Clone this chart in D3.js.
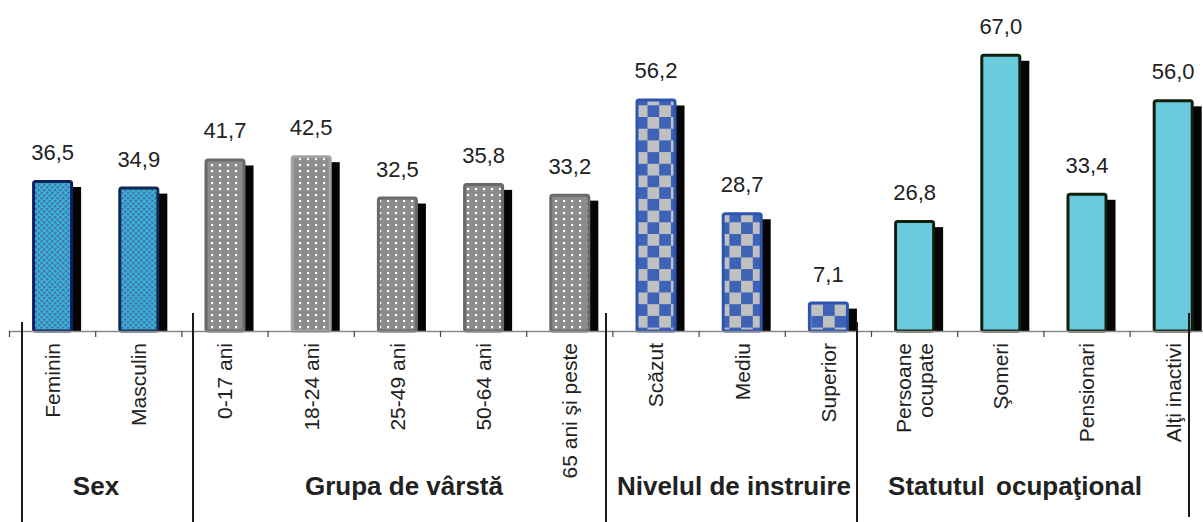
<!DOCTYPE html>
<html>
<head>
<meta charset="utf-8">
<script src="https://cdn.jsdelivr.net/npm/d3@7"></script>
<style>
  html, body { margin: 0; padding: 0; background: #ffffff; }
  svg { display: block; font-family: "Liberation Sans", Arial, sans-serif; }
</style>
</head>
<body>
<div id="chart"></div>
<script>
// ---- data ----
const categories = ["Feminin", "Masculin", "0-17 ani", "18-24 ani", "25-49 ani", "50-64 ani", "65 ani şi peste",
  "Scăzut", "Mediu", "Superior", "Persoane ocupate", "Şomeri", "Pensionari", "Alţi inactivi"];
const values = [36.5, 34.9, 41.7, 42.5, 32.5, 35.8, 33.2, 56.2, 28.7, 7.1, 26.8, 67.0, 33.4, 56.0];
const groups = ["Sex", "Grupa de vârstă", "Nivelul de instruire", "Statutul ocupaţional"];
const groupSizes = [2, 5, 3, 4];
const labelLines = {"Persoane ocupate": ["Persoane", "ocupate"]};

// ---- layout ----
const W = 1203, H = 522;
const baseY = 331;
const x0 = 9.5, step = 86.2;
const svg = d3.select("#chart").append("svg").attr("width", W).attr("height", H);

const x = d3.scaleBand().domain(categories)
  .range([x0, x0 + step * categories.length])
  .paddingInner(0.524).paddingOuter(0.262);
const y = d3.scaleLinear().domain([0, 80]).range([baseY, 0]);
const bw = x.bandwidth();
const slotStart = c => x(c) - x.step() * 0.262;

const groupOf = [];
groupSizes.forEach((n, g) => { for (let i = 0; i < n; i++) groupOf.push(g); });

// ---- patterns ----
const defs = svg.append("defs");
const p0 = defs.append("pattern").attr("id", "pSex").attr("patternUnits", "userSpaceOnUse")
  .attr("width", 5.4).attr("height", 5.4);
p0.append("rect").attr("width", 5.4).attr("height", 5.4).attr("fill", "#2fb9ca");
p0.append("rect").attr("width", 2.2).attr("height", 2.2).attr("fill", "#5a5cbd");
p0.append("rect").attr("x", 2.7).attr("y", 2.7).attr("width", 2.2).attr("height", 2.2).attr("fill", "#5a5cbd");
const p1 = defs.append("pattern").attr("id", "pAge").attr("patternUnits", "userSpaceOnUse")
  .attr("width", 8).attr("height", 6);
p1.append("rect").attr("width", 8).attr("height", 6).attr("fill", "#8c8c8c");
p1.append("rect").attr("x", 3).attr("y", 2).attr("width", 2.2).attr("height", 2.2).attr("fill", "#ffffff");
const p2 = defs.append("pattern").attr("id", "pEdu").attr("patternUnits", "userSpaceOnUse")
  .attr("width", 23.4).attr("height", 23.4).attr("x", 4).attr("y", 0);
p2.append("rect").attr("width", 23.4).attr("height", 23.4).attr("fill", "#c0c0c0");
p2.append("rect").attr("width", 11.7).attr("height", 11.7).attr("fill", "#3e63b6");
p2.append("rect").attr("x", 11.7).attr("y", 11.7).attr("width", 11.7).attr("height", 11.7).attr("fill", "#3e63b6");

const groupFill = ["url(#pSex)", "url(#pAge)", "url(#pEdu)", "#6acbdc"];
const groupStroke = ["#0e1f5e", "#6a6a6a", "#2c55b2", "#10200f"];
const strokeOverride = {"18-24 ani": "#a4a4a4", "Masculin": "#0c2a55"};

const data = categories.map((c, i) => ({c, v: values[i], g: groupOf[i]}));

// ---- shadows ----
svg.append("g").selectAll("rect").data(data).join("rect")
  .attr("x", d => x(d.c) + 8)
  .attr("y", d => y(d.v) + 7)
  .attr("width", bw)
  .attr("height", d => Math.max(0, baseY - y(d.v) - 6))
  .attr("fill", "#050505");

// ---- bars ----
svg.append("g").selectAll("rect").data(data).join("rect")
  .attr("x", d => x(d.c) + 1.5)
  .attr("y", d => y(d.v) + 1.5)
  .attr("width", bw - 3)
  .attr("height", d => baseY - y(d.v) - 1.5)
  .attr("rx", 2)
  .attr("fill", d => groupFill[d.g])
  .attr("stroke", d => strokeOverride[d.c] || groupStroke[d.g])
  .attr("stroke-width", 3);

// ---- axis ----
svg.append("line").attr("x1", x0).attr("x2", W).attr("y1", baseY + 0.5).attr("y2", baseY + 0.5)
  .attr("stroke", "#8a8a8a").attr("stroke-width", 1.5);
svg.append("g").selectAll("line").data(categories).join("line")
  .attr("x1", c => slotStart(c)).attr("x2", c => slotStart(c))
  .attr("y1", baseY).attr("y2", baseY + 6)
  .attr("stroke", "#444").attr("stroke-width", 1.2);

// ---- value labels ----
svg.append("g").selectAll("text").data(data).join("text")
  .attr("x", d => x(d.c) + bw / 2)
  .attr("y", d => y(d.v) - 20)
  .attr("text-anchor", "middle")
  .attr("font-size", 22)
  .attr("fill", "#222")
  .text(d => d3.format(".1f")(d.v).replace(".", ","));

// ---- category labels (rotated) ----
const cl = svg.append("g").selectAll("text").data(categories).join("text")
  .attr("transform", c => `translate(${x(c) + bw / 2},${baseY + 12}) rotate(-90)`)
  .attr("text-anchor", "end")
  .attr("font-size", 21)
  .attr("fill", "#222");
cl.each(function(c) {
  const lines = labelLines[c] || [c];
  const t = d3.select(this);
  lines.forEach((ln, k) => {
    const off = (k - (lines.length - 1) / 2) * 22;
    t.append("tspan").attr("x", 0).attr("y", off).attr("dy", "0.35em").text(ln);
  });
});

// ---- group separators ----
const sepX = [22, 193, 606, 857, 1189];
const sepTop = [322, 313, 313, 322, 313];
const sepBottom = [522, 522, 522, 522, 517];
svg.append("g").selectAll("line").data(sepX).join("line")
  .attr("x1", d => d).attr("x2", d => d)
  .attr("y1", (d, i) => sepTop[i]).attr("y2", (d, i) => sepBottom[i])
  .attr("stroke", "#1a1a1a").attr("stroke-width", 2);

// ---- group labels ----
const groupLabelX = [96, 404, 734, 1015];
svg.append("g").selectAll("text").data(groups).join("text")
  .attr("x", (d, i) => groupLabelX[i])
  .attr("y", 495)
  .attr("text-anchor", "middle")
  .attr("font-size", 26)
  .attr("font-weight", "bold")
  .attr("fill", "#222")
  .attr("word-spacing", (d, i) => i === 3 ? 4 : 0)
  .text(d => d);
</script>
</body>
</html>
